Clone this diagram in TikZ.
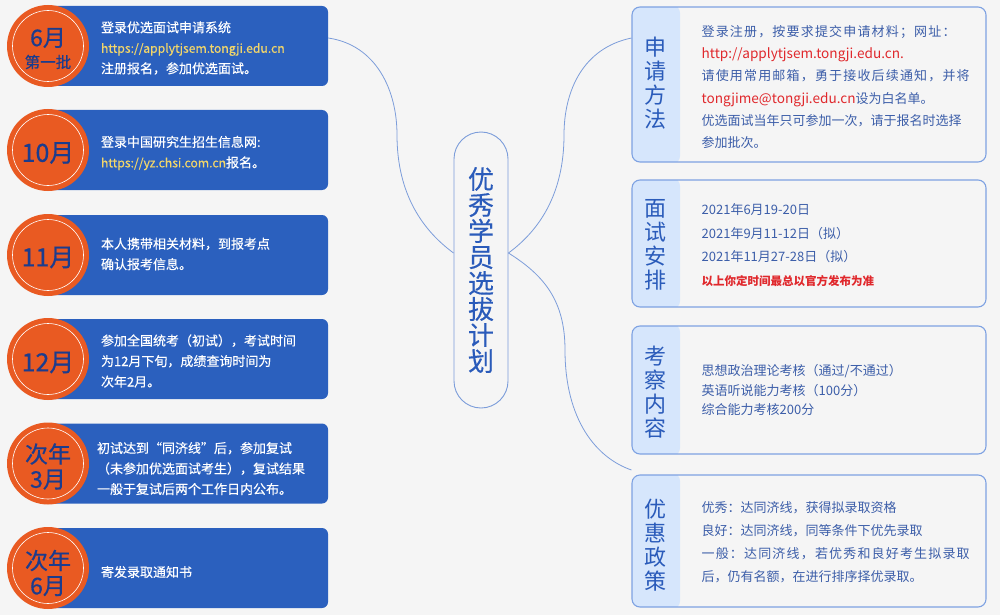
\documentclass[tikz,border=0pt]{standalone}
\usepackage{fontspec}
\setmainfont{Noto Sans CJK SC}
\newfontfamily\cjkwide[LetterSpace=9]{Noto Sans CJK SC}
\newfontfamily\cjkmed[FakeBold=0.6]{Noto Sans CJK SC}
\newfontfamily\cjksemi[FakeBold=0.35]{Noto Sans CJK SC}
\usetikzlibrary{calc}
\definecolor{bg}{HTML}{F5F5F5}
\definecolor{lblue}{HTML}{2B60BE}
\definecolor{orng}{HTML}{E95A22}
\definecolor{navy}{HTML}{1B3C8E}
\definecolor{urly}{HTML}{F2D66A}
\definecolor{rbord}{HTML}{7EA2E2}
\definecolor{rstrip}{HTML}{D6E6FC}
\definecolor{rtext}{HTML}{3C5EA9}
\definecolor{rred}{HTML}{E0282C}
\definecolor{ctext}{HTML}{2A5BBA}
\definecolor{link}{HTML}{7C9DDA}
\tikzset{
  lbox/.style={fill=lblue, rounded corners=6pt, minimum width=280pt, minimum height=80pt, inner sep=0pt},
  lcirc/.style={circle, fill=orng, minimum size=82pt, inner sep=0pt,
    path picture={\draw[white, line width=0.6pt] (path picture bounding box.center) circle (35.5pt);}},
  ctxt/.style={text=navy, align=center, inner sep=0pt, font=\cjkmed\fontsize{23}{25}\selectfont},
  ltext/.style={anchor=west, text=white, align=left, inner sep=0pt, font=\cjksemi\fontsize{13}{20.5}\selectfont},
  rbox/.style={draw=rbord, line width=1.1pt, fill=bg, rounded corners=8pt, minimum width=354pt, inner sep=0pt,
    path picture={\fill[rstrip, rounded corners=8pt] ([xshift=-2pt,yshift=2pt]path picture bounding box.north west) rectangle ([xshift=48pt,yshift=-2pt]path picture bounding box.south west);}},
  rtitle/.style={text=ctext, align=center, inner sep=0pt, font=\fontsize{22}{24}\selectfont},
  rtext/.style={anchor=west, text=rtext, align=left, inner sep=0pt},
  link/.style={draw=link, line width=0.8pt},
}
\begin{document}
\begin{tikzpicture}[x=1pt, y=-1pt]
\fill[bg] (0,0) rectangle (1000,615);
\useasboundingbox (0,0) rectangle (1000,615);

% left boxes
\node[lbox] (L1) at (188,46) {};
\node[lbox] (L2) at (188,150) {};
\node[lbox] (L3) at (188,255) {};
\node[lbox] (L4) at (188,359) {};
\node[lbox] (L5) at (188,463.5) {};
\node[lbox] (L6) at (188,568) {};

\node[lcirc] (C1) at (48,46) {};
\node[lcirc] (C2) at (48,150) {};
\node[lcirc] (C3) at (48,255) {};
\node[lcirc] (C4) at (48,359) {};
\node[lcirc] (C5) at (48,463.5) {};
\node[lcirc] (C6) at (48,568) {};

\node[ctxt] (M1a) at ($(C1)+(0,-8)$) {6月};
\node[ctxt, font=\cjkmed\fontsize{15.5}{16}\selectfont] (M1b) at ($(C1)+(0,16)$) {第一批};
\node[ctxt, font=\cjkmed\fontsize{25}{25}\selectfont] (M2) at ($(C2)+(0,3)$) {10月};
\node[ctxt, font=\cjkmed\fontsize{25}{25}\selectfont] (M3) at ($(C3)+(0,2.5)$) {11月};
\node[ctxt, font=\cjkmed\fontsize{25}{25}\selectfont] (M4) at ($(C4)+(0,3.5)$) {12月};
\node[ctxt] (M5) at ($(C5)+(0,3)$) {次年\\3月};
\node[ctxt] (M6) at ($(C6)+(0,5)$) {次年\\6月};

\node[ltext] (T1) at ($(L1.west)+(53,2)$) {登录优选面试申请系统\\\textcolor{urly}{\fontsize{12.2}{20.5}\selectfont https://applytjsem.tongji.edu.cn}\\注册报名，参加优选面试。};
\node[ltext] (T2) at ($(L2.west)+(53,3)$) {登录中国研究生招生信息网:\\\textcolor{urly}{\fontsize{12.2}{20.5}\selectfont https://yz.chsi.com.cn}报名。};
\node[ltext] (T3) at ($(L3.west)+(53,-1)$) {本人携带相关材料，到报考点\\确认报考信息。};
\node[ltext] (T4) at ($(L4.west)+(53,2)$) {参加全国统考（初试），考试时间\\为12月下旬，成绩查询时间为\\次年2月。};
\node[ltext] (T5) at ($(L5.west)+(49,5)$) {初试达到“同济线”后，参加复试\\（未参加优选面试考生），复试结果\\一般于复试后两个工作日内公布。};
\node[ltext] (T6) at ($(L6.west)+(53,4)$) {寄发录取通知书};

% centre
\node[draw=link, line width=0.9pt, fill=bg, rounded corners=27pt, minimum width=54pt, minimum height=276pt,
  inner sep=0pt, text=ctext, align=center, font=\cjksemi\fontsize{26}{26}\selectfont] (C) at (481,270)
  {优\\秀\\学\\员\\选\\拔\\计\\划};

% right boxes
\node[rbox, minimum height=155pt] (R1) at (809,84.5) {};
\node[rbox, minimum height=127pt] (R2) at (809,243.5) {};
\node[rbox, minimum height=128pt] (R3) at (809,390) {};
\node[rbox, minimum height=132pt] (R4) at (809,541) {};

\node[rtitle] (H1) at ($(R1.west)+(24.5,-1)$) {申\\请\\方\\法};
\node[rtitle] (H2) at ($(R2.west)+(24.5,1)$) {面\\试\\安\\排};
\node[rtitle] (H3) at ($(R3.west)+(24.5,2)$) {考\\察\\内\\容};
\node[rtitle] (H4) at ($(R4.west)+(24.5,4)$) {优\\惠\\政\\策};

\node[rtext, font=\fontsize{13}{22.2}\selectfont] (S1) at ($(R1.west)+(70,2.5)$)
  {{\cjkwide 登录注册，按要求提交申请材料；网址：}\\
   \textcolor{rred}{\fontsize{13.6}{22.2}\selectfont http://applytjsem.tongji.edu.cn.}\\
   {\cjkwide 请使用常用邮箱，勇于接收后续通知，并将}\\
   \textcolor{rred}{\fontsize{13.6}{22.2}\selectfont tongjime@tongji.edu.cn}设为白名单。\\
   优选面试当年只可参加一次，请于报名时选择\\
   参加批次。};
\node[rtext, font=\fontsize{13}{23.5}\selectfont] (S2) at ($(R2.west)+(70,1.5)$)
  {2021年6月19-20日\\2021年9月11-12日（拟）\\2021年11月27-28日（拟）\\
   \textcolor{rred}{\bfseries\fontsize{11.5}{23.5}\selectfont 以上你定时间最总以官方发布为准}};
\node[rtext, font=\fontsize{13}{19.5}\selectfont] (S3) at ($(R3.west)+(70,0)$)
  {思想政治理论考核（通过/不通过）\\英语听说能力考核（100分）\\综合能力考核200分};
\node[rtext, font=\fontsize{13}{23}\selectfont] (S4) at ($(R4.west)+(70,1.5)$)
  {优秀：达同济线，获得拟录取资格\\良好：达同济线，同等条件下优先录取\\
   {\cjkwide 一般：达同济线，若优秀和良好考生拟录取}\\后，仍有名额，在进行排序择优录取。};

% connectors
\draw[link] ([yshift=8pt]L1.east) .. controls +(48,7) and +(0,-45) .. (397,135)
  .. controls +(0,60) and +(-30,-22) .. ([yshift=17pt]C.west);
\draw[link] ([yshift=46.5pt]R1.west) .. controls +(-48,10) and +(0,-45) .. (564,135)
  .. controls +(0,60) and +(30,-22) .. ([yshift=17pt]C.east);
\draw[link] ([yshift=17pt]C.east) .. controls +(35,22) and +(0,-50) .. (565,350)
  .. controls +(0,70) and +(-35,-12) .. ([yshift=71pt]R4.west);
\end{tikzpicture}
\end{document}
